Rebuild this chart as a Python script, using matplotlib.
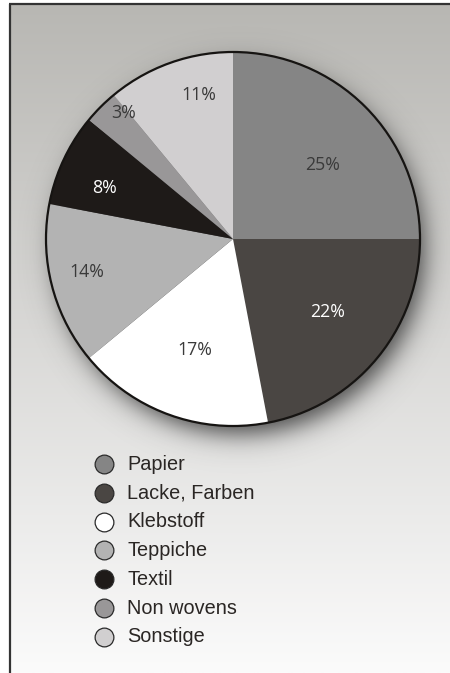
import numpy as np
import matplotlib
matplotlib.use("Agg")
import matplotlib.pyplot as plt
from matplotlib.patches import Circle
from matplotlib.lines import Line2D

# Share of each material (percent)
categories = ["Papier", "Lacke, Farben", "Klebstoff", "Teppiche", "Textil",
              "Non wovens", "Sonstige"]
shares = [25, 22, 17, 14, 8, 3, 11]
slice_colors = ["#858585", "#4a4643", "#ffffff", "#b3b3b3", "#1e1a18",
                "#999798", "#d1cfd0"]
label_colors = ["#3a3a3a", "#ffffff", "#3a3a3a", "#3a3a3a", "#ffffff",
                "#3a3a3a", "#3a3a3a"]
# label placement: fraction of radius and angular nudge from slice middle
label_radius = [0.62, 0.64, 0.63, 0.80, 0.74, 0.89, 0.79]
label_nudge = [-5.6, 2.1, 0.9, -1.6, 3.5, -4.1, -6.3]

W, H = 450, 673
fig = plt.figure(figsize=(W / 100, H / 100), dpi=100)
fig.patch.set_facecolor("white")
ax = fig.add_axes([0, 0, 1, 1])

# panel background: vertical gray gradient inside the frame
top = np.array([184, 183, 179]) / 255
bot = np.array([251, 251, 251]) / 255
t = np.linspace(0, 1, 400)[:, None]
grad = (top[None, :] * (1 - t) + bot[None, :] * t)[:, None, :]
ax.imshow(grad, extent=(10, W, 0, H - 4), aspect="auto", zorder=0,
          interpolation="bilinear")

cx, cy, R = 233, H - 239, 187

# soft drop shadow below/right of the pie
xs = np.arange(0, W) + 0.5
ys = np.arange(0, H) + 0.5
X, Y = np.meshgrid(xs, ys)
d = np.hypot(X - (cx + 7), Y - (cy - 11))
alpha = 0.78 / (1 + np.exp((d - (R - 3)) / 7.5))
shadow = np.zeros((H, W, 4))
shadow[..., 0:3] = 0.12
shadow[..., 3] = alpha
ax.imshow(shadow, extent=(0, W, 0, H), origin="lower", zorder=1,
          interpolation="bilinear")

wedges, _ = ax.pie(shares, colors=slice_colors, startangle=90,
                   counterclock=False, center=(cx, cy), radius=R,
                   wedgeprops=dict(linewidth=0), frame=False)
for w in wedges:
    w.set_zorder(2)
ax.add_patch(Circle((cx, cy), R, fill=False, edgecolor="#161412",
                    linewidth=1.6, zorder=3))

# percentage labels
ang = 90.0
for s, col, rf, nd in zip(shares, label_colors, label_radius, label_nudge):
    mid = np.deg2rad(ang - s * 3.6 / 2 + nd)
    ang -= s * 3.6
    ax.text(cx + rf * R * np.cos(mid), cy + rf * R * np.sin(mid), f"{s}%",
            ha="center", va="center", fontsize=12.8, color=col,
            family="Open Sans", zorder=4)

# legend rows
row0, step = H - 464, 28.8
for i, (name, col) in enumerate(zip(categories, slice_colors)):
    yy = row0 - i * step
    ax.add_line(Line2D([104], [yy], marker="o", markersize=13.5,
                       markerfacecolor=col, markeredgecolor="#2a2a2a",
                       markeredgewidth=0.9, zorder=4))
    ax.text(127, yy, name, ha="left", va="center", fontsize=14.3,
            color="#2a2624", family="Liberation Sans", zorder=4)

# frame lines (top and left)
ax.add_line(Line2D([9, W], [H - 3.5, H - 3.5], color="#333333", lw=1.6,
                   zorder=5, solid_capstyle="butt"))
ax.add_line(Line2D([9.5, 9.5], [0, H - 3.5], color="#333333", lw=1.6,
                   zorder=5, solid_capstyle="butt"))

ax.set_xlim(0, W)
ax.set_ylim(0, H)
ax.set_axis_off()
fig.savefig("out.png", dpi=100)
